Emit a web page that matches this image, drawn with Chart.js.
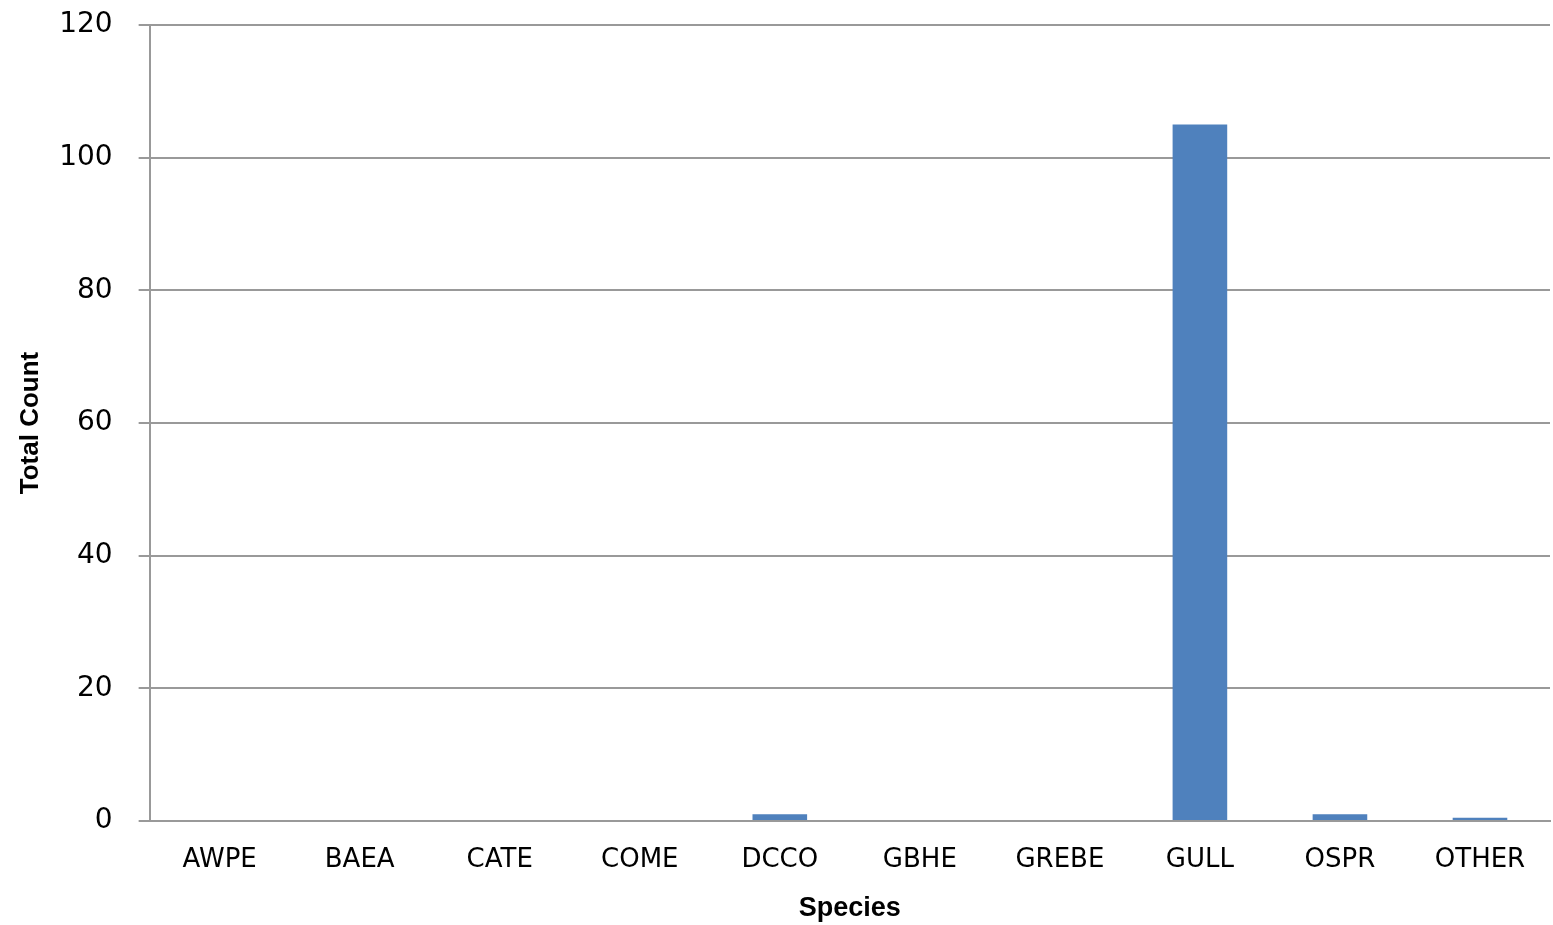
<!DOCTYPE html>
<html>
<head>
<meta charset="utf-8">
<script src="https://cdn.jsdelivr.net/npm/chart.js@4/dist/chart.umd.min.js"></script>
<style>
  html, body { margin: 0; padding: 0; background: #fff; }
  #wrap { width: 1553px; height: 925px; }
</style>
</head>
<body>
<div id="wrap"><canvas id="birdChart"></canvas></div>
<script>
const species = ['AWPE', 'BAEA', 'CATE', 'COME', 'DCCO', 'GBHE', 'GREBE', 'GULL', 'OSPR', 'OTHER'];
const totalCounts = [0, 0, 0, 0, 1, 0, 0, 105, 1, 0.5];
const yTicks = [0, 20, 40, 60, 80, 100, 120];

const ctx = document.getElementById('birdChart').getContext('2d');
new Chart(ctx, {
    type: 'bar',
    data: {
        labels: species,
        datasets: [{
            label: 'Total Count',
            data: totalCounts,
            backgroundColor: '#4f81bd',
            borderWidth: 0,
            barPercentage: 0.39,
            categoryPercentage: 1
        }]
    },
    options: {
        responsive: true,
        maintainAspectRatio: false,
        animation: false,
        layout: { padding: { top: 25, right: 3, bottom: 0, left: 0 } },
        plugins: {
            legend: { display: false },
            tooltip: { enabled: false }
        },
        scales: {
            x: {
                grid: { display: false, drawTicks: false },
                border: { color: '#999999', width: 2 },
                ticks: {
                    color: '#000',
                    font: { family: 'DejaVu Sans', size: 26, lineHeight: 1 },
                    padding: 26,
                    maxRotation: 0
                },
                title: {
                    display: true,
                    text: 'Species',
                    color: '#000',
                    font: { family: 'Liberation Sans', size: 27, weight: 'bold', lineHeight: 1 },
                    padding: { top: -4, bottom: 3 }
                }
            },
            y: {
                min: 0,
                max: 120,
                afterBuildTicks: axis => { axis.ticks = yTicks.map(v => ({ value: v })); },
                // long tick slot, only the 11px next to the axis is drawn
                grid: { color: '#999999', lineWidth: 2, tickLength: 37, tickBorderDash: [0, 26, 11, 100] },
                border: { color: '#999999', width: 2 },
                ticks: {
                    color: '#000',
                    font: { family: 'DejaVu Sans', size: 28 },
                    padding: 0
                },
                title: {
                    display: true,
                    text: 'Total Count',
                    color: '#000',
                    font: { family: 'Liberation Sans', size: 26, weight: 'bold' },
                    padding: { top: 15, bottom: 13 }
                }
            }
        }
    }
});
</script>
</body>
</html>
